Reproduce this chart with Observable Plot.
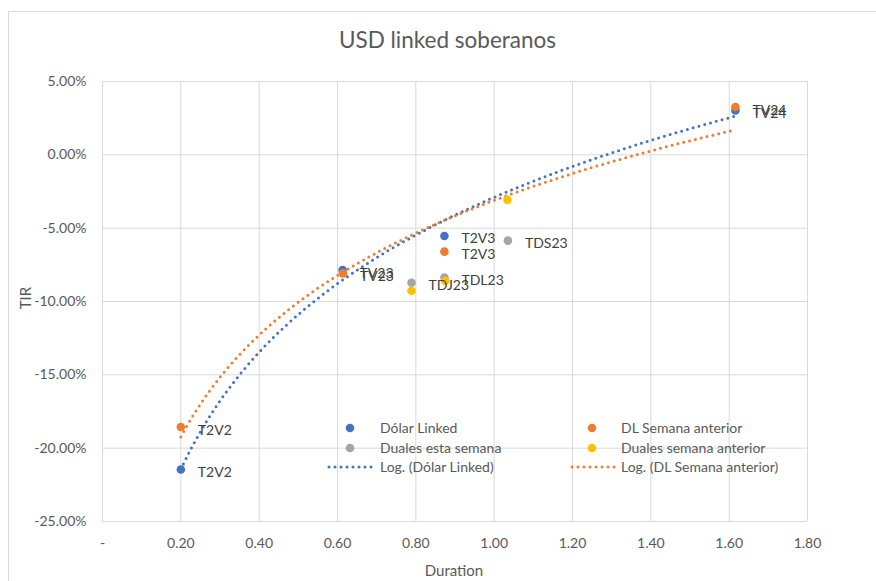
<!DOCTYPE html>
<html><head><meta charset="utf-8">
<script src="https://cdn.jsdelivr.net/npm/d3@7"></script>
<script src="https://cdn.jsdelivr.net/npm/@observablehq/plot@0.6"></script>
<style>
body{margin:0;background:#fff;font-family:Lato,"Noto Sans",sans-serif;}
#wrap{position:relative;width:876px;height:581px;overflow:hidden;background:#fff;}
#border{position:absolute;left:8px;top:11px;width:900px;height:600px;border-left:1px solid #d9d9d9;border-top:1px solid #d9d9d9;pointer-events:none;}
#title{position:absolute;left:0;width:895px;top:27px;text-align:center;font-size:22.5px;color:#595959;line-height:26px;}
.axt{position:absolute;font-size:15px;color:#595959;line-height:18px;}
#xlab{left:354px;width:200px;text-align:center;top:561px;}
#ylab{left:25px;top:298px;transform:translate(-50%,-50%) rotate(-90deg);}
.lgt{position:absolute;height:20px;line-height:20px;font-size:14px;color:#595959;white-space:nowrap;}
.lgs{position:absolute;display:block;}
#plot{position:absolute;left:0;top:0;}
</style>
</head><body>
<div id="wrap">
  <div id="plot"></div>
  <div id="border"></div>
  <div id="title"></div>
  <div id="xlab" class="axt"></div>
  <div id="ylab" class="axt"></div>
  <div id="legend"></div>
</div>
<script>
// ---- data ----
const chartTitle = "USD linked soberanos";
const xTitle = "Duration";
const yTitle = "TIR";
const xTicks = [0, 0.2, 0.4, 0.6, 0.8, 1.0, 1.2, 1.4, 1.6, 1.8];
const yTicks = [-0.25, -0.20, -0.15, -0.10, -0.05, 0, 0.05];

const dlNames = ["T2V2", "TV23", "T2V3", "TV24"];
const dlDuration = [0.200, 0.613, 0.873, 1.616];
const dlTir = [-0.2145, -0.0786, -0.0553, 0.0303];

const dlPrevNames = ["T2V2", "TV23", "T2V3", "TV24"];
const dlPrevDuration = [0.200, 0.614, 0.873, 1.616];
const dlPrevTir = [-0.1856, -0.0808, -0.0660, 0.0326];

const dualNames = ["TDJ23", "TDL23", "TDS23"];
const dualDuration = [0.789, 0.873, 1.035];
const dualTir = [-0.0872, -0.0836, -0.0585];

const dualPrevNames = ["TDJ23", "TDL23", "TDS23"];
const dualPrevDuration = [0.789, 0.875, 1.034];
const dualPrevTir = [-0.0927, -0.0860, -0.0307];

const seriesNames = ["Dólar Linked", "DL Semana anterior", "Duales esta semana", "Duales semana anterior",
  "Log. (Dólar Linked)", "Log. (DL Semana anterior)"];
const colors = {blue: "#4472C4", orange: "#ED7D31", gray: "#A5A5A5", yellow: "#FFC000"};

// ---- build ----
const rows = (names, xs, ys) => names.map((n, i) => ({name: n, x: xs[i], y: ys[i]}));
const dl = rows(dlNames, dlDuration, dlTir);
const dlPrev = rows(dlPrevNames, dlPrevDuration, dlPrevTir);
const dual = rows(dualNames, dualDuration, dualTir);
const dualPrev = rows(dualPrevNames, dualPrevDuration, dualPrevTir);

// logarithmic least-squares trendline (as in the spreadsheet): y = a + b ln(x)
function logTrend(data) {
  const lx = data.map(d => Math.log(d.x));
  const mx = d3.mean(lx), my = d3.mean(data, d => d.y);
  let sxy = 0, sxx = 0;
  data.forEach((d, i) => { sxy += (lx[i] - mx) * (d.y - my); sxx += (lx[i] - mx) ** 2; });
  const b = sxy / sxx, a = my - b * mx;
  const [x0, x1] = d3.extent(data, d => d.x);
  return d3.range(0, 201).map(i => { const x = x0 + (x1 - x0) * i / 200; return {x, y: a + b * Math.log(x)}; });
}
const trendDl = logTrend(dl);
const trendPrev = logTrend(dlPrev);

const fmtPct = d => (d * 100).toFixed(2) + "%";
const fmtX = d => d === 0 ? "-" : d.toFixed(2);
const dotted = {strokeWidth: 3, strokeDasharray: "0,6", strokeLinecap: "round"};
const lblStyle = {x: "x", y: "y", text: "name", textAnchor: "start", dx: 17, dy: 3, fontSize: 14, fill: "#404040"};

const chart = Plot.plot({
  width: 876, height: 581,
  marginLeft: 102, marginRight: 69, marginTop: 81, marginBottom: 60,
  style: {fontFamily: "Lato, 'Noto Sans', sans-serif", background: "transparent"},
  x: {domain: [0, 1.8]},
  y: {domain: [-0.25, 0.05]},
  marks: [
    Plot.gridX(xTicks, {stroke: "#d9d9d9", strokeOpacity: 1, strokeWidth: 1}),
    Plot.gridY(yTicks, {stroke: "#d9d9d9", strokeOpacity: 1, strokeWidth: 1}),
    Plot.axisX(xTicks, {tickFormat: fmtX, tickSize: 0, tickPadding: 17, fontSize: 14, fill: "#595959", label: null}),
    Plot.axisY(yTicks, {tickFormat: fmtPct, tickSize: 0, tickPadding: 16, fontSize: 14, fill: "#595959", label: null}),
    Plot.line(trendDl, {x: "x", y: "y", stroke: colors.blue, ...dotted}),
    Plot.line(trendPrev, {x: "x", y: "y", stroke: colors.orange, ...dotted}),
    Plot.dot(dl, {x: "x", y: "y", r: 4.3, fill: colors.blue}),
    Plot.dot(dlPrev, {x: "x", y: "y", r: 4.3, fill: colors.orange}),
    Plot.dot(dual, {x: "x", y: "y", r: 4.3, fill: colors.gray}),
    Plot.dot(dualPrev, {x: "x", y: "y", r: 4.3, fill: colors.yellow}),
    Plot.text(dl, lblStyle),
    Plot.text(dlPrev, lblStyle),
    Plot.text(dual, lblStyle)
  ]
});
document.getElementById("plot").appendChild(chart);
document.getElementById("title").textContent = chartTitle;
document.getElementById("xlab").textContent = xTitle;
document.getElementById("ylab").textContent = yTitle;

// ---- legend (inside plot area, like the spreadsheet) ----
// symbol spans [s0, s1] horizontally, text starts at tx, row centre at cy
const legendItems = [
  {label: seriesNames[0], kind: "dot", color: colors.blue, s0: 340, s1: 360, tx: 380, cy: 428},
  {label: seriesNames[2], kind: "dot", color: colors.gray, s0: 340, s1: 360, tx: 380, cy: 448},
  {label: seriesNames[4], kind: "line", color: colors.blue, s0: 327, s1: 374, tx: 380, cy: 467},
  {label: seriesNames[1], kind: "dot", color: colors.orange, s0: 582, s1: 602, tx: 621, cy: 428},
  {label: seriesNames[3], kind: "dot", color: colors.yellow, s0: 582, s1: 602, tx: 621, cy: 448},
  {label: seriesNames[5], kind: "line", color: colors.orange, s0: 570, s1: 617, tx: 621, cy: 467}
];
const lg = document.getElementById("legend");
legendItems.forEach(it => {
  const w = it.s1 - it.s0;
  const sw = d3.create("svg").attr("class", "lgs").attr("width", w).attr("height", 20)
    .style("left", it.s0 + "px").style("top", (it.cy - 10) + "px");
  if (it.kind === "dot") {
    sw.append("circle").attr("cx", w / 2).attr("cy", 10).attr("r", 4.3).attr("fill", it.color);
  } else {
    sw.append("line").attr("x1", 2).attr("x2", w - 2).attr("y1", 10).attr("y2", 10)
      .attr("stroke", it.color).attr("stroke-width", 3).attr("stroke-dasharray", "0,6").attr("stroke-linecap", "round");
  }
  lg.appendChild(sw.node());
  const span = document.createElement("div");
  span.className = "lgt";
  span.style.left = it.tx + "px";
  span.style.top = (it.cy - 10) + "px";
  span.textContent = it.label;
  lg.appendChild(span);
});
</script>
</body></html>
